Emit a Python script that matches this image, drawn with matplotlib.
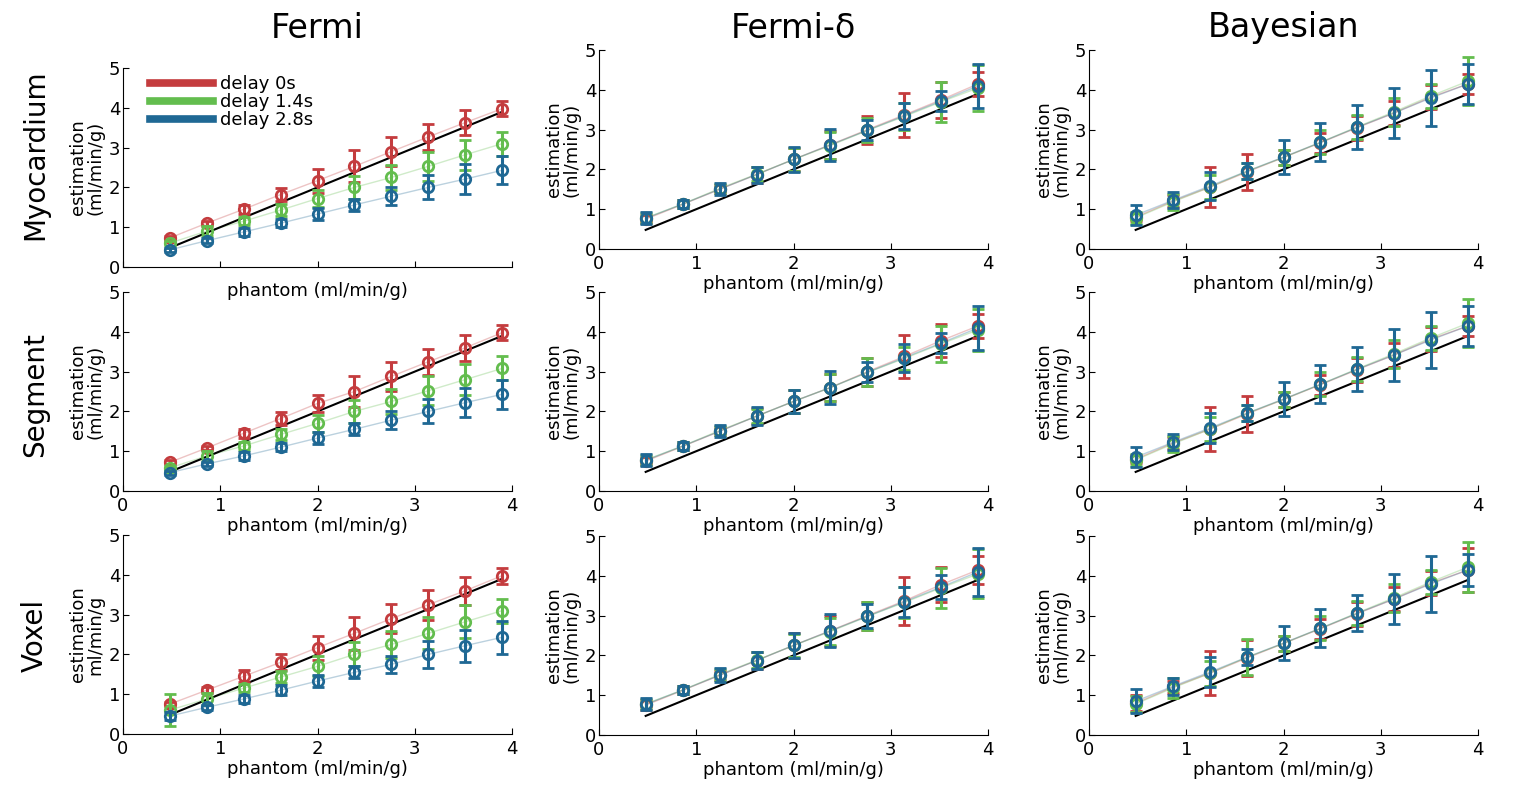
import matplotlib.pyplot as plt
import numpy as np
import matplotlib as mpl
mpl.use('Agg')

############ DATA #############
phantom = [0.48, 0.86, 1.24, 1.62, 2.0, 2.38, 2.76, 3.14, 3.52, 3.9]
delays = ['delay 0s', 'delay 1.4s', 'delay 2.8s']
methods = ['Fermi', 'Fermi-\u03b4', 'Bayesian']
levels = ['Myocardium', 'Segment', 'Voxel']

# rows: delay 0s, 1.4s, 2.8s
fermi_myo = [[0.73, 1.10, 1.45, 1.82, 2.17, 2.53, 2.90, 3.27, 3.63, 3.98],
             [0.60, 0.90, 1.15, 1.43, 1.72, 2.00, 2.25, 2.53, 2.82, 3.10],
             [0.43, 0.66, 0.88, 1.10, 1.33, 1.56, 1.78, 2.00, 2.21, 2.43]]
fermi_myo_err = [[0.05, 0.06, 0.12, 0.17, 0.30, 0.40, 0.37, 0.33, 0.32, 0.18],
                 [0.06, 0.12, 0.10, 0.15, 0.22, 0.28, 0.32, 0.37, 0.38, 0.30],
                 [0.05, 0.06, 0.10, 0.10, 0.15, 0.15, 0.22, 0.30, 0.37, 0.35]]
fermi_seg = [[0.72, 1.08, 1.45, 1.82, 2.20, 2.50, 2.88, 3.25, 3.60, 3.98],
             [0.58, 0.88, 1.13, 1.42, 1.70, 2.00, 2.25, 2.52, 2.80, 3.08],
             [0.46, 0.68, 0.88, 1.10, 1.33, 1.55, 1.78, 2.00, 2.22, 2.43]]
fermi_seg_err = [[0.05, 0.06, 0.12, 0.17, 0.22, 0.40, 0.37, 0.33, 0.33, 0.18],
                 [0.06, 0.12, 0.10, 0.15, 0.22, 0.28, 0.32, 0.37, 0.40, 0.30],
                 [0.05, 0.06, 0.10, 0.10, 0.15, 0.15, 0.22, 0.30, 0.37, 0.36]]
fermi_vox = [[0.75, 1.10, 1.45, 1.80, 2.17, 2.53, 2.90, 3.25, 3.60, 3.98],
             [0.60, 0.88, 1.15, 1.43, 1.70, 2.00, 2.25, 2.53, 2.82, 3.10],
             [0.45, 0.67, 0.88, 1.10, 1.33, 1.55, 1.75, 2.00, 2.22, 2.43]]
fermi_vox_err = [[0.05, 0.08, 0.15, 0.20, 0.30, 0.42, 0.37, 0.38, 0.35, 0.20],
                 [0.40, 0.15, 0.10, 0.15, 0.25, 0.30, 0.33, 0.40, 0.42, 0.30],
                 [0.10, 0.06, 0.10, 0.12, 0.15, 0.15, 0.22, 0.33, 0.40, 0.42]]

fdelta_myo = [[0.75, 1.12, 1.50, 1.87, 2.25, 2.62, 3.00, 3.37, 3.75, 4.15],
              [0.78, 1.13, 1.52, 1.88, 2.25, 2.60, 2.98, 3.33, 3.70, 4.05],
              [0.77, 1.13, 1.50, 1.87, 2.25, 2.62, 2.98, 3.35, 3.72, 4.10]]
fdelta_myo_err = [[0.10, 0.10, 0.10, 0.20, 0.30, 0.35, 0.35, 0.55, 0.45, 0.30],
                  [0.12, 0.10, 0.12, 0.18, 0.28, 0.35, 0.30, 0.35, 0.50, 0.58],
                  [0.15, 0.10, 0.15, 0.20, 0.32, 0.40, 0.25, 0.33, 0.25, 0.55]]
fdelta_seg = [[0.75, 1.12, 1.50, 1.88, 2.25, 2.60, 3.00, 3.38, 3.78, 4.15],
              [0.78, 1.13, 1.52, 1.88, 2.25, 2.60, 2.98, 3.33, 3.70, 4.05],
              [0.77, 1.13, 1.50, 1.88, 2.25, 2.60, 2.98, 3.35, 3.72, 4.10]]
fdelta_seg_err = [[0.10, 0.10, 0.10, 0.20, 0.30, 0.35, 0.35, 0.55, 0.42, 0.30],
                  [0.12, 0.10, 0.12, 0.18, 0.28, 0.35, 0.35, 0.30, 0.45, 0.52],
                  [0.15, 0.10, 0.15, 0.22, 0.30, 0.42, 0.25, 0.35, 0.25, 0.55]]
fdelta_vox = [[0.75, 1.12, 1.50, 1.87, 2.25, 2.62, 3.00, 3.37, 3.78, 4.15],
              [0.78, 1.13, 1.52, 1.88, 2.25, 2.60, 2.98, 3.33, 3.70, 4.05],
              [0.77, 1.13, 1.50, 1.87, 2.25, 2.62, 2.98, 3.35, 3.72, 4.10]]
fdelta_vox_err = [[0.12, 0.10, 0.12, 0.22, 0.32, 0.38, 0.35, 0.60, 0.45, 0.35],
                  [0.12, 0.10, 0.15, 0.20, 0.30, 0.35, 0.35, 0.38, 0.50, 0.62],
                  [0.15, 0.10, 0.18, 0.22, 0.32, 0.42, 0.30, 0.38, 0.30, 0.60]]

bayes_myo = [[0.80, 1.20, 1.55, 1.93, 2.30, 2.67, 3.05, 3.42, 3.82, 4.15],
             [0.78, 1.18, 1.55, 1.95, 2.30, 2.68, 3.07, 3.45, 3.85, 4.22],
             [0.85, 1.22, 1.58, 1.95, 2.31, 2.68, 3.06, 3.42, 3.80, 4.15]]
bayes_myo_err = [[0.10, 0.15, 0.50, 0.45, 0.20, 0.25, 0.30, 0.30, 0.30, 0.25],
                 [0.15, 0.20, 0.30, 0.20, 0.20, 0.30, 0.30, 0.35, 0.30, 0.60],
                 [0.25, 0.20, 0.35, 0.20, 0.42, 0.48, 0.55, 0.62, 0.70, 0.50]]
bayes_seg = [[0.80, 1.20, 1.55, 1.93, 2.30, 2.67, 3.05, 3.42, 3.82, 4.15],
             [0.78, 1.18, 1.55, 1.95, 2.30, 2.68, 3.07, 3.45, 3.85, 4.22],
             [0.85, 1.22, 1.58, 1.95, 2.31, 2.68, 3.06, 3.42, 3.80, 4.15]]
bayes_seg_err = [[0.10, 0.15, 0.55, 0.45, 0.20, 0.25, 0.30, 0.30, 0.30, 0.25],
                 [0.15, 0.20, 0.30, 0.20, 0.20, 0.30, 0.30, 0.35, 0.30, 0.60],
                 [0.25, 0.20, 0.38, 0.20, 0.42, 0.48, 0.55, 0.65, 0.70, 0.50]]
bayes_vox = [[0.80, 1.20, 1.55, 1.93, 2.30, 2.67, 3.05, 3.42, 3.82, 4.15],
             [0.78, 1.18, 1.55, 1.95, 2.30, 2.68, 3.07, 3.45, 3.85, 4.22],
             [0.85, 1.22, 1.58, 1.95, 2.31, 2.68, 3.06, 3.42, 3.80, 4.15]]
bayes_vox_err = [[0.20, 0.15, 0.55, 0.45, 0.20, 0.25, 0.30, 0.30, 0.30, 0.55],
                 [0.20, 0.25, 0.32, 0.45, 0.20, 0.30, 0.30, 0.35, 0.30, 0.62],
                 [0.30, 0.22, 0.38, 0.20, 0.42, 0.48, 0.45, 0.62, 0.70, 0.40]]

panels = [[(fermi_myo, fermi_myo_err), (fdelta_myo, fdelta_myo_err), (bayes_myo, bayes_myo_err)],
          [(fermi_seg, fermi_seg_err), (fdelta_seg, fdelta_seg_err), (bayes_seg, bayes_seg_err)],
          [(fermi_vox, fermi_vox_err), (fdelta_vox, fdelta_vox_err), (bayes_vox, bayes_vox_err)]]

colors = ['#c43c3e', '#63bd4e', '#1f6894']

############ LAYOUT #############
W, H = 1539, 787
col_left = [123, 599, 1089]
col_w = 389
row_top = [[68, 50, 50], [292, 292, 292], [535, 536, 536]]
ax_h = 199

fig = plt.figure(figsize=(W / 100, H / 100), dpi=100)

for r in range(3):
    for c in range(3):
        left = col_left[c] / W
        bottom = 1 - (row_top[r][c] + ax_h) / H
        ax = fig.add_axes([left, bottom, col_w / W, ax_h / H])
        ax.patch.set_visible(False)
        means, errs = panels[r][c]
        ax.plot(phantom, phantom, color='black', lw=1.5, zorder=2)
        for k in range(3):
            ax.plot(phantom, means[k], color=colors[k], lw=1, alpha=0.3, zorder=1)
            ax.errorbar(phantom, means[k], yerr=errs[k], fmt='o', mfc='none', mec=colors[k],
                        ecolor=colors[k], ms=7.5, mew=2, elinewidth=2.2, capsize=4, capthick=2,
                        label=delays[k], zorder=3 + k)
        ax.set_xlim(0, 4)
        ax.set_ylim(0, 5)
        ax.set_xticks([0, 1, 2, 3, 4])
        ax.set_yticks([0, 1, 2, 3, 4, 5])
        ax.spines['top'].set_visible(False)
        ax.spines['right'].set_visible(False)
        ax.tick_params(direction='in', labelsize=13, length=4)
        ax.tick_params(axis='x', pad=4)
        ax.tick_params(axis='y', pad=2)
        first = (r == 0 and c == 0)
        if first:
            ax.set_xticklabels([])
        ax.set_xlabel('phantom (ml/min/g)', fontsize=13, labelpad=7 if first else 2)
        ylab = 'estimation\nml/min/g' if (r == 2 and c == 0) else 'estimation\n(ml/min/g)'
        ax.set_ylabel(ylab, fontsize=13, labelpad=3, linespacing=1.0)
        if first:
            handles = [plt.Line2D([], [], color=colors[k], lw=5.5) for k in range(3)]
            ax.legend(handles, delays, loc='upper left', frameon=False, fontsize=13,
                      handlelength=3.5, handletextpad=0.4, labelspacing=0.0,
                      borderaxespad=0.0, bbox_to_anchor=(0.05, 1.0))

for c in range(3):
    xc = (col_left[c] + col_w / 2) / W
    fig.text(xc, 1 - 28 / H, methods[c], ha='center', va='center', fontsize=24)
for r, yc in enumerate([155, 395, 635]):
    fig.text(35 / W, 1 - yc / H, levels[r], ha='center', va='center', rotation=90, fontsize=20)

plt.savefig('out.png', dpi=100)
